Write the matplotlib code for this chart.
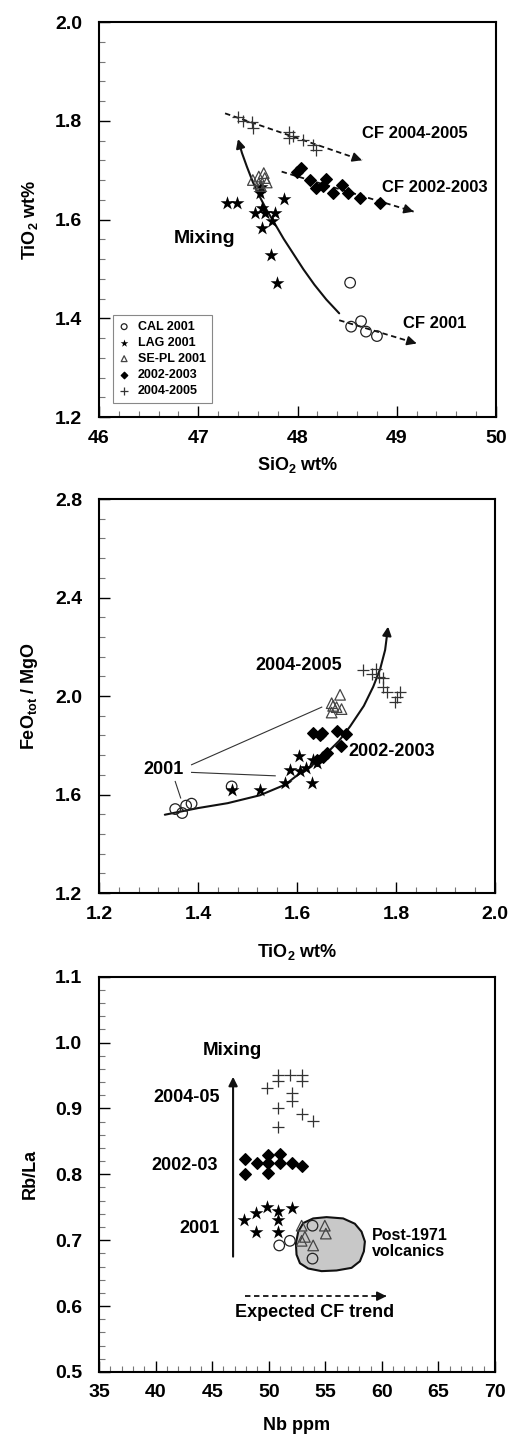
import numpy as np
import matplotlib
matplotlib.use("Agg")
import matplotlib.pyplot as plt
from matplotlib.path import Path
from matplotlib.patches import FancyArrowPatch, Polygon
from matplotlib.ticker import MultipleLocator, FormatStrFormatter

plt.rcParams["font.family"] = ["Liberation Sans", "DejaVu Sans"]
plt.rcParams["font.weight"] = "bold"
plt.rcParams["axes.labelweight"] = "bold"
plt.rcParams["mathtext.fontset"] = "custom"
plt.rcParams["mathtext.rm"] = "Liberation Sans:bold"
plt.rcParams["mathtext.bf"] = "Liberation Sans:bold"
plt.rcParams["mathtext.it"] = "Liberation Sans:bold"

# -----------------------------------
# PANEL 1 : TiO2 vs SiO2
# -----------------------------------
p1_cal_si = [48.53, 48.54, 48.64, 48.69, 48.80]
p1_cal_ti = [1.472, 1.383, 1.394, 1.373, 1.364]
p1_lag_si = [47.29, 47.39, 47.62, 47.63, 47.64, 47.57, 47.67, 47.77, 47.74, 47.64, 47.86, 47.73, 47.79]
p1_lag_ti = [1.633, 1.633, 1.653, 1.665, 1.623, 1.613, 1.613, 1.614, 1.596, 1.582, 1.642, 1.529, 1.471]
p1_sepl_si = [47.55, 47.61, 47.61, 47.66, 47.67, 47.69, 47.63]
p1_sepl_ti = [1.680, 1.687, 1.673, 1.694, 1.684, 1.675, 1.668]
p1_0203_si = [47.99, 48.04, 48.13, 48.19, 48.26, 48.29, 48.36, 48.45, 48.51, 48.63, 48.83]
p1_0203_ti = [1.697, 1.704, 1.680, 1.663, 1.667, 1.683, 1.653, 1.670, 1.653, 1.643, 1.633]
p1_0405_si = [47.40, 47.45, 47.54, 47.55, 47.91, 47.91, 47.95, 48.06, 48.16, 48.19]
p1_0405_ti = [1.808, 1.800, 1.798, 1.785, 1.778, 1.765, 1.770, 1.761, 1.751, 1.741]

# guide lines (start, end)
p1_cf0405 = [(47.27, 1.815), (48.65, 1.720)]
p1_cf0203 = [(47.84, 1.697), (49.17, 1.616)]
p1_cf01 = [(48.42, 1.396), (49.20, 1.349)]
p1_mix_x = [48.42, 48.29, 48.17, 48.06, 47.96, 47.86, 47.77, 47.69, 47.62, 47.55, 47.49, 47.44, 47.40]
p1_mix_y = [1.410, 1.438, 1.468, 1.499, 1.530, 1.561, 1.592, 1.619, 1.646, 1.676, 1.707, 1.735, 1.763]

# -----------------------------------
# PANEL 2 : FeOtot/MgO vs TiO2
# -----------------------------------
p2_cal_ti = [1.354, 1.368, 1.376, 1.387, 1.468]
p2_cal_fm = [1.541, 1.525, 1.555, 1.563, 1.633]
p2_lag_ti = [1.468, 1.525, 1.576, 1.586, 1.605, 1.606, 1.618, 1.630, 1.633, 1.640]
p2_lag_fm = [1.620, 1.617, 1.647, 1.700, 1.757, 1.694, 1.707, 1.647, 1.741, 1.728]
p2_sepl_ti = [1.670, 1.687, 1.673, 1.690, 1.670, 1.680]
p2_sepl_fm = [1.971, 2.005, 1.960, 1.947, 1.933, 1.955]
p2_0203_ti = [1.633, 1.650, 1.646, 1.680, 1.699, 1.688, 1.640, 1.653, 1.660]
p2_0203_fm = [1.849, 1.849, 1.840, 1.860, 1.846, 1.798, 1.741, 1.752, 1.768]
p2_0405_ti = [1.734, 1.751, 1.760, 1.766, 1.774, 1.773, 1.781, 1.801, 1.808, 1.798]
p2_0405_fm = [2.106, 2.090, 2.109, 2.079, 2.072, 2.036, 2.018, 1.998, 2.018, 1.975]

p2_mix_x = [1.333, 1.400, 1.460, 1.525, 1.576, 1.606, 1.635, 1.660, 1.685, 1.707, 1.735, 1.754, 1.768, 1.778, 1.784]
p2_mix_y = [1.518, 1.545, 1.565, 1.597, 1.640, 1.687, 1.725, 1.768, 1.818, 1.876, 1.960, 2.038, 2.110, 2.187, 2.282]
p2_lead_lines = [
    [(1.387, 1.721), (1.650, 1.955)],
    [(1.387, 1.690), (1.556, 1.676)],
    [(1.354, 1.653), (1.365, 1.586)],
]

# -----------------------------------
# PANEL 3 : Rb/La vs Nb
# -----------------------------------
p3_cal_nb = [50.93, 51.87, 53.87, 53.87]
p3_cal_rb = [0.692, 0.699, 0.722, 0.672]
p3_lag_nb = [47.84, 48.87, 49.81, 50.84, 50.84, 52.02, 48.87, 50.84]
p3_lag_rb = [0.730, 0.741, 0.750, 0.744, 0.730, 0.749, 0.713, 0.713]
p3_sepl_nb = [52.91, 54.96, 55.05, 52.91, 53.93, 53.20]
p3_sepl_rb = [0.722, 0.722, 0.710, 0.699, 0.692, 0.705]
p3_0203_nb = [47.90, 48.93, 49.96, 50.99, 49.96, 50.99, 52.02, 52.90, 47.90, 49.96]
p3_0203_rb = [0.823, 0.817, 0.829, 0.831, 0.817, 0.817, 0.817, 0.813, 0.801, 0.802]
p3_0405_nb = [49.87, 50.84, 50.84, 51.87, 52.90, 52.90, 52.02, 52.02, 50.84, 52.90, 53.93, 50.84]
p3_0405_rb = [0.931, 0.950, 0.942, 0.950, 0.950, 0.942, 0.924, 0.912, 0.901, 0.892, 0.881, 0.872]

p3_field_nb = [52.61, 53.05, 53.93, 55.11, 56.58, 57.61, 58.20, 58.50, 58.41, 58.06, 57.32,
               55.99, 54.67, 53.49, 52.76, 52.46, 52.40]
p3_field_rb = [0.713, 0.726, 0.733, 0.735, 0.733, 0.725, 0.713, 0.698, 0.683, 0.668, 0.658,
               0.654, 0.653, 0.657, 0.665, 0.678, 0.695]

# -----------------------------------
# HELPERS
# -----------------------------------
def style_axes(ax, xlim, ylim, xmaj, ymaj):
    ax.set_xlim(*xlim)
    ax.set_ylim(*ylim)
    ax.xaxis.set_major_locator(MultipleLocator(xmaj))
    ax.xaxis.set_minor_locator(MultipleLocator(xmaj / 5))
    ax.yaxis.set_major_locator(MultipleLocator(ymaj))
    ax.yaxis.set_minor_locator(MultipleLocator(ymaj / 5))
    ax.tick_params(which="major", direction="in", length=8, width=1.0, labelsize=14)
    ax.tick_params(which="minor", direction="in", length=4, width=0.8, color="#777")
    ax.tick_params(axis="y", which="major", pad=12)
    ax.tick_params(axis="x", which="major", pad=9)
    ax.tick_params(top=False, right=False, which="both")
    for s in ax.spines.values():
        s.set_linewidth(1.5)


def draw_groups(ax, cal, lag, sepl, g0203, g0405, size=58):
    ax.scatter(*cal, s=size, marker="o", facecolors="none", edgecolors="#222", linewidths=0.9, zorder=4, label="CAL 2001")
    ax.scatter(*lag, s=size * 1.9, marker="*", color="black", linewidths=0, zorder=4, label="LAG 2001")
    ax.scatter(*sepl, s=size, marker="^", facecolors="none", edgecolors="#444", linewidths=0.9, zorder=4, label="SE-PL 2001")
    ax.scatter(*g0203, s=size * 0.6, marker="D", color="black", zorder=4, label="2002-2003")
    ax.scatter(*g0405, s=size * 1.5, marker="+", color="#333", linewidths=0.9, zorder=4, label="2004-2005")


def dashed_arrow(ax, start, end):
    ax.plot([start[0], end[0]], [start[1], end[1]], ls=(0, (3, 2)), lw=1.3, color="#111", zorder=3)
    ax.annotate("", xy=end, xytext=(start[0] + 0.97 * (end[0] - start[0]), start[1] + 0.97 * (end[1] - start[1])),
                arrowprops=dict(arrowstyle="-|>", color="#111", lw=1.2, mutation_scale=14,
                                shrinkA=0, shrinkB=0), zorder=3)


def curve_arrow(ax, xs, ys):
    path = Path(list(zip(xs, ys)))
    arr = FancyArrowPatch(path=path, arrowstyle="-|>", mutation_scale=13, lw=1.5, color="#111",
                          joinstyle="round", capstyle="round", zorder=3)
    ax.add_patch(arr)


fig = plt.figure(figsize=(5.15, 14.39), dpi=100)
ax1 = fig.add_axes([0.1922, 0.7102, 0.771, 0.2745])
ax2 = fig.add_axes([0.1922, 0.3794, 0.769, 0.2738])
ax3 = fig.add_axes([0.1922, 0.0466, 0.769, 0.2747])

# Panel 1
style_axes(ax1, (46, 50), (1.2, 2.0), 1, 0.2)
ax1.yaxis.set_major_formatter(FormatStrFormatter("%.1f"))
draw_groups(ax1, (p1_cal_si, p1_cal_ti), (p1_lag_si, p1_lag_ti), (p1_sepl_si, p1_sepl_ti),
            (p1_0203_si, p1_0203_ti), (p1_0405_si, p1_0405_ti))
dashed_arrow(ax1, *p1_cf0405)
dashed_arrow(ax1, *p1_cf0203)
dashed_arrow(ax1, *p1_cf01)
curve_arrow(ax1, p1_mix_x, p1_mix_y)
ax1.text(49.18, 1.775, "CF 2004-2005", fontsize=12, ha="center", va="center")
ax1.text(48.85, 1.664, "CF 2002-2003", fontsize=12, ha="left", va="center")
ax1.text(49.06, 1.390, "CF 2001", fontsize=12, ha="left", va="center")
ax1.text(46.75, 1.562, "Mixing", fontsize=14, ha="left", va="center")
ax1.set_xlabel("SiO$_2$ wt%", fontsize=13, labelpad=6)
ax1.set_ylabel("TiO$_2$ wt%", fontsize=13, labelpad=11)
leg = ax1.legend(loc="lower left", bbox_to_anchor=(0.035, 0.035), borderaxespad=0, fontsize=9,
                 markerscale=0.55, handlelength=0.8, handletextpad=0.7, labelspacing=0.32,
                 borderpad=0.5, fancybox=False, framealpha=1, edgecolor="#888", scatterpoints=1)
leg.get_frame().set_linewidth(0.8)

# Panel 2
style_axes(ax2, (1.2, 2.0), (1.2, 2.8), 0.2, 0.4)
ax2.xaxis.set_major_formatter(FormatStrFormatter("%.1f"))
ax2.yaxis.set_major_formatter(FormatStrFormatter("%.1f"))
draw_groups(ax2, (p2_cal_ti, p2_cal_fm), (p2_lag_ti, p2_lag_fm), (p2_sepl_ti, p2_sepl_fm),
            (p2_0203_ti, p2_0203_fm), (p2_0405_ti, p2_0405_fm))
curve_arrow(ax2, p2_mix_x, p2_mix_y)
for a, b in p2_lead_lines:
    ax2.plot([a[0], b[0]], [a[1], b[1]], color="#333", lw=0.8, zorder=2)
ax2.text(1.603, 2.123, "2004-2005", fontsize=13, ha="center", va="center")
ax2.text(1.703, 1.775, "2002-2003", fontsize=13, ha="left", va="center")
ax2.text(1.331, 1.703, "2001", fontsize=13, ha="center", va="center")
ax2.set_xlabel("TiO$_2$ wt%", fontsize=13, labelpad=14)
ax2.set_ylabel("FeO$_{tot}$ / MgO", fontsize=13, labelpad=11)

# Panel 3
style_axes(ax3, (35, 70), (0.5, 1.1), 5, 0.1)
ax3.yaxis.set_major_formatter(FormatStrFormatter("%.1f"))
field = Polygon(list(zip(p3_field_nb, p3_field_rb)), closed=True, facecolor="#c8c8c8",
                edgecolor="#111", lw=1.5, joinstyle="round", zorder=2)
ax3.add_patch(field)
draw_groups(ax3, (p3_cal_nb, p3_cal_rb), (p3_lag_nb, p3_lag_rb), (p3_sepl_nb, p3_sepl_rb),
            (p3_0203_nb, p3_0203_rb), (p3_0405_nb, p3_0405_rb))
ax3.annotate("", xy=(46.85, 0.948), xytext=(46.85, 0.675),
             arrowprops=dict(arrowstyle="-|>", color="#111", lw=1.5, mutation_scale=13, shrinkA=0, shrinkB=0))
dashed_arrow(ax3, (47.90, 0.615), (60.41, 0.615))
ax3.text(46.8, 0.988, "Mixing", fontsize=13.5, ha="center", va="center")
ax3.text(45.7, 0.917, "2004-05", fontsize=13, ha="right", va="center")
ax3.text(45.5, 0.813, "2002-03", fontsize=13, ha="right", va="center")
ax3.text(45.7, 0.718, "2001", fontsize=13, ha="right", va="center")
ax3.text(59.08, 0.695, "Post-1971\nvolcanics", fontsize=11.5, ha="left", va="center", linespacing=1.05)
ax3.text(54.08, 0.590, "Expected CF trend", fontsize=13, ha="center", va="center")
ax3.set_xlabel("Nb ppm", fontsize=13, labelpad=11)
ax3.set_ylabel("Rb/La", fontsize=13, labelpad=12)

fig.savefig("out.png", dpi=100)
